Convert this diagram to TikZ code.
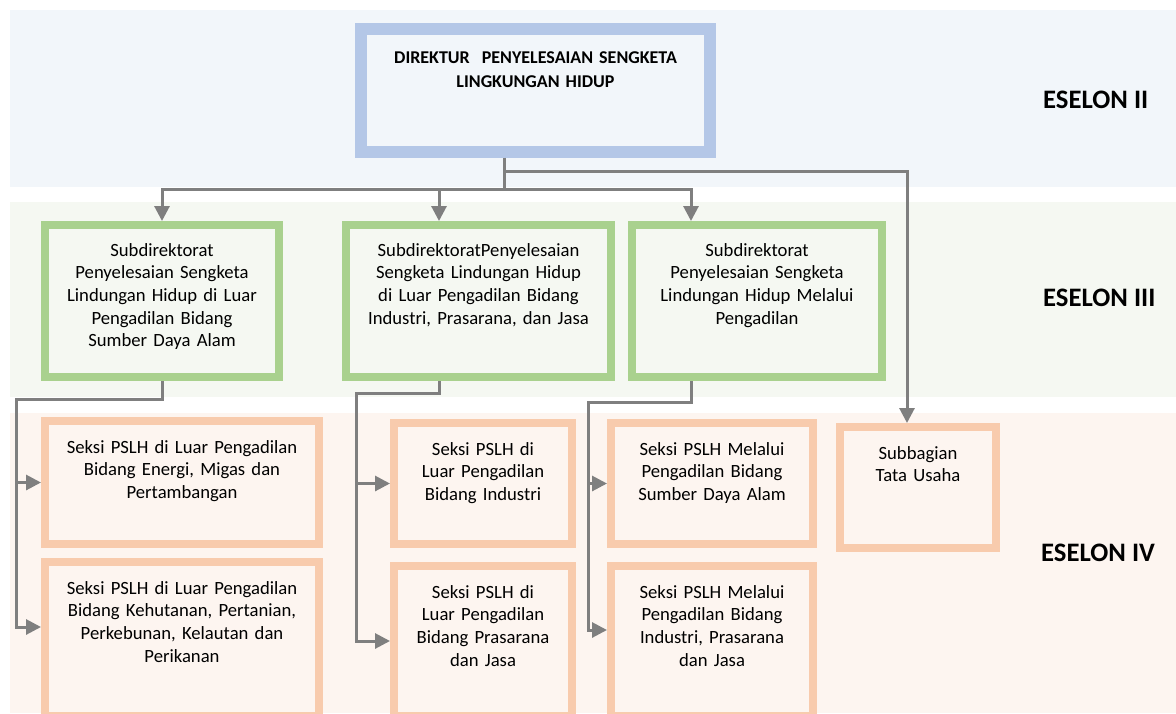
\documentclass[tikz,border=0pt]{standalone}
\usepackage{fontspec}
\setmainfont{Carlito}
\usetikzlibrary{arrows.meta}
\definecolor{eselonII}{HTML}{F2F6FA}
\definecolor{eselonIII}{HTML}{F5F8F2}
\definecolor{eselonIV}{HTML}{FDF5F0}
\definecolor{dirblue}{HTML}{B4C7E7}
\definecolor{subgreen}{HTML}{A9D18E}
\definecolor{seksiorange}{HTML}{F8CBAD}
\definecolor{linegrey}{HTML}{7F7F7F}
\tikzset{
    every node/.style={font=\fontsize{18.67}{22.7}\selectfont, align=center, inner sep=0pt, anchor=north west},
    dirbox/.style={draw=dirblue, fill=eselonII, line width=12pt, font=\bfseries\fontsize{18}{23.5}\selectfont, text height=35pt},
    subbox/.style={draw=subgreen, fill=eselonIII, line width=8pt, text height=31pt},
    seksibox/.style={draw=seksiorange, fill=eselonIV, line width=8pt, text height=32pt},
    eselon/.style={font=\bfseries\fontsize{26.67}{32}\selectfont, anchor=base west},
    plainline/.style={draw=linegrey, line width=3pt},
    arrow/.style={plainline, -{Triangle[length=15pt, width=15pt]}},
}

\begin{document}
\begin{tikzpicture}[x=1pt, y=-1pt]
\useasboundingbox (0,0) rectangle (1176,713);
\clip (0,0) rectangle (1176,713);
% bands of the three echelons
\fill[eselonII] (10,10) rectangle (1176,187);
\fill[eselonIII] (10,202) rectangle (1176,397);
\fill[eselonIV] (10,413) rectangle (1176,713);

\node[eselon] (esII) at (1043,108.5) {ESELON II};
\node[eselon] (esIII) at (1043,306.5) {ESELON III};
\node[eselon] (esIV) at (1041,561.5) {ESELON IV};

% eselon II
\node[dirbox, text width=349pt, text depth=88pt] (dir) at (355,22.7) {DIREKTUR \ PENYELESAIAN SENGKETA\\LINGKUNGAN HIDUP};

% eselon III
\node[subbox, text width=234pt, text depth=121pt] (sub1) at (41,221) {Subdirektorat\\Penyelesaian Sengketa\\Lindungan Hidup di Luar\\Pengadilan Bidang\\Sumber Daya Alam};
\node[subbox, text width=265pt, text depth=121pt] (sub2) at (342,221) {SubdirektoratPenyelesaian\\Sengketa Lindungan Hidup\\di Luar Pengadilan Bidang\\Industri, Prasarana, dan Jasa};
\node[subbox, text width=250pt, text depth=121pt] (sub3) at (628,221) {Subdirektorat\\Penyelesaian Sengketa\\Lindungan Hidup Melalui\\Pengadilan};

% eselon IV
\node[seksibox, text width=274pt, text depth=91pt] (sek1) at (41,417) {Seksi PSLH di Luar Pengadilan\\Bidang Energi, Migas dan\\Pertambangan};
\node[seksibox, text width=274pt, text depth=122pt] (sek2) at (41,558) {Seksi PSLH di Luar Pengadilan\\Bidang Kehutanan, Pertanian,\\Perkebunan, Kelautan dan\\Perikanan};
\node[seksibox, text width=178pt, text depth=89pt] (sek3) at (390,419) {Seksi PSLH di\\Luar Pengadilan\\Bidang Industri};
\node[seksibox, text width=178pt, text depth=118pt] (sek4) at (390,562) {Seksi PSLH di\\Luar Pengadilan\\Bidang Prasarana\\dan Jasa};
\node[seksibox, text width=202pt, text depth=89pt] (sek5) at (607,419) {Seksi PSLH Melalui\\Pengadilan Bidang\\Sumber Daya Alam};
\node[seksibox, text width=202pt, text depth=118pt] (sek6) at (607,562) {Seksi PSLH Melalui\\Pengadilan Bidang\\Industri, Prasarana\\dan Jasa};
\node[seksibox, text width=156pt, text depth=89pt] (tu) at (836,423) {Subbagian\\Tata Usaha};

% director to subdirectorates and the Tata Usaha
\coordinate (busII) at (504,189);
\coordinate (busTU) at (504,171);
\draw[plainline] ([xshift=-31.5pt]dir.south) -- (busII);
\foreach \s/\dx in {1/0, 2/-39.5, 3/-66}
  \draw[arrow] (busII) -| ([xshift=\dx pt]sub\s.north);
\draw[arrow] (busTU) -| ([xshift=-11pt]tu.north);

% subdirectorates to sections
\foreach \s/\up/\lo/\dx/\bx/\by/\dy in {1/1/2/0/16/399/12, 2/3/4/-39.5/356/393/0, 3/5/6/-66/588/402/11}{
  \coordinate (bus\s) at (\bx,\by);
  \draw[arrow] ([xshift=\dx pt]sub\s.south) |- (bus\s) |- ([yshift=\dy pt]sek\lo.west);
  \draw[arrow] (bus\s |- sek\up.west) -- (sek\up.west);
}
\end{tikzpicture}
\end{document}
